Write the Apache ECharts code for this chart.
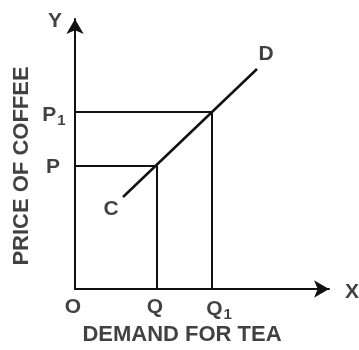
<!DOCTYPE html>
<html style="height:100%">
<head>
    <meta charset="utf-8">
    <title>Demand for tea vs price of coffee</title>
    <script src="https://cdn.jsdelivr.net/npm/echarts@6/dist/echarts.min.js"></script>
</head>
<body style="height:100%;margin:0;background:#fff">
    <div id="main" style="width:359px;height:350px;"></div>
    <script type="text/javascript">
        // values (1 unit ~ 1 px from the origin)
        var xMax = 254, yMax = 270;
        var qLevels = [82, 137];        // Q, Q1
        var pLevels = [123, 177];       // P, P1
        var curveX = [48, 182];         // C end, D end
        var curveY = [92, 220];
        // text labels: [x, y, text]
        var pointLabels = [
            [-20, 268, 'Y'],
            [-21, 174, 'P{s|1}'],
            [-22, 122, 'P'],
            [36, 80, 'C'],
            [191, 235, 'D'],
            [-2, -18, 'O'],
            [80, -18, 'Q'],
            [144, -20, 'Q{s|1}'],
            [277, -3, 'X']
        ];
        var xTitle = [107, -46, 'DEMAND FOR TEA'];
        var yTitle = [-53, 123, 'PRICE OF COFFEE'];

        var ink = '#111';
        var font = 'Liberation Sans, Arial, sans-serif';
        var myChart = echarts.init(document.getElementById('main'));

        function dropLine(i) {
            return {
                type: 'line',
                symbol: 'none',
                silent: true,
                lineStyle: { color: ink, width: 2 },
                data: [[0, pLevels[i]], [qLevels[i], pLevels[i]], [qLevels[i], 0]]
            };
        }

        function textSeries(items, size, rotate) {
            return {
                type: 'scatter',
                symbolSize: 0,
                clip: false,
                silent: true,
                data: items.map(function (d) { return { value: [d[0], d[1]], name: d[2] }; }),
                label: {
                    show: true,
                    position: 'inside',
                    rotate: rotate || 0,
                    formatter: function (p) { return p.name; },
                    color: ink,
                    fontFamily: font,
                    fontWeight: 'bold',
                    fontSize: size,
                    rich: {
                        s: {
                            fontSize: 15,
                            color: ink,
                            fontFamily: font,
                            fontWeight: 'bold',
                            verticalAlign: 'bottom',
                            padding: [11, 0, 0, 1]
                        }
                    }
                }
            };
        }

        var axisCommon = {
            type: 'value',
            min: 0,
            axisLine: {
                show: true,
                symbol: ['none', 'arrow'],
                symbolSize: [13, 15],
                lineStyle: { color: ink, width: 2 }
            },
            axisTick: { show: false },
            axisLabel: { show: false },
            splitLine: { show: false }
        };

        option = {
            backgroundColor: '#fff',
            animation: false,
            grid: { left: 75, right: 30, top: 19, bottom: 61 },
            xAxis: Object.assign({}, axisCommon, { max: xMax }),
            yAxis: Object.assign({}, axisCommon, { max: yMax }),
            series: [
                dropLine(0),
                dropLine(1),
                {
                    type: 'line',
                    symbol: 'none',
                    silent: true,
                    lineStyle: { color: ink, width: 2.5 },
                    data: [[curveX[0], curveY[0]], [curveX[1], curveY[1]]]
                },
                textSeries(pointLabels, 21),
                textSeries([xTitle], 22),
                textSeries([yTitle], 22, 90)
            ]
        };

        myChart.setOption(option);
    </script>
</body>
</html>
